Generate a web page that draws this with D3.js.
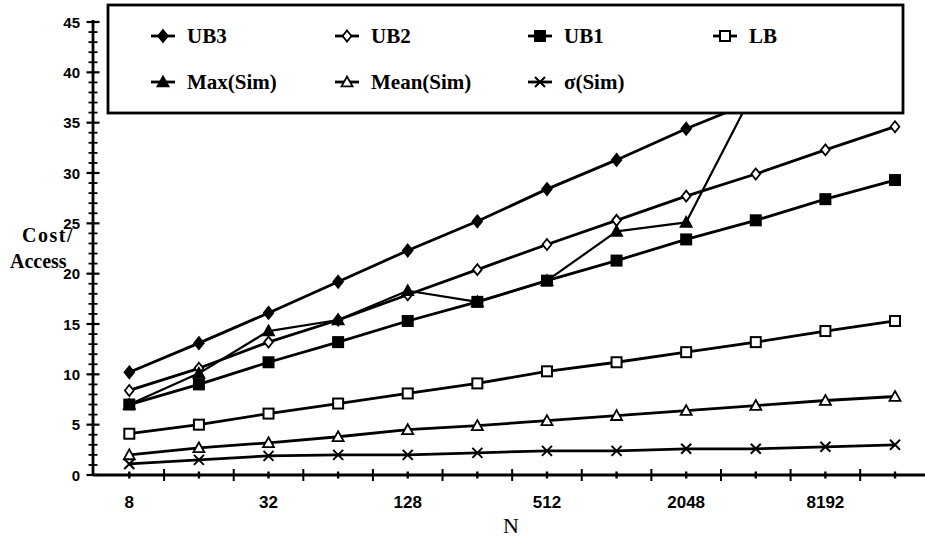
<!DOCTYPE html>
<html>
<head>
<meta charset="utf-8">
<script src="https://cdn.jsdelivr.net/npm/d3@7"></script>
<style>
  html, body { margin: 0; padding: 0; background: #fff; }
  svg { display: block; }
</style>
</head>
<body>
<svg id="chart" width="925" height="540"></svg>
<script>
// Table size N (powers of two) and cost per access for each bound / simulation result
const sizes   = [8, 16, 32, 64, 128, 256, 512, 1024, 2048, 4096, 8192, 16384];
const ub3     = [10.2, 13.1, 16.1, 19.2, 22.3, 25.2, 28.4, 31.3, 34.4, 37.2];
const ub2     = [8.4, 10.6, 13.2, 15.4, 17.9, 20.4, 22.9, 25.3, 27.7, 29.9, 32.3, 34.6];
const ub1     = [7.0, 9.0, 11.2, 13.2, 15.3, 17.2, 19.3, 21.3, 23.4, 25.3, 27.4, 29.3];
const lb      = [4.1, 5.0, 6.1, 7.1, 8.1, 9.1, 10.3, 11.2, 12.2, 13.2, 14.3, 15.3];
const maxSim  = [7.0, 10.1, 14.3, 15.4, 18.3, 17.2, 19.3, 24.2, 25.1, 38.5];
const meanSim = [2.0, 2.7, 3.2, 3.8, 4.5, 4.9, 5.4, 5.9, 6.4, 6.9, 7.4, 7.8];
const sdSim   = [1.1, 1.5, 1.9, 2.0, 2.0, 2.2, 2.4, 2.4, 2.6, 2.6, 2.8, 3.0];

const xTickLabels = [8, 32, 128, 512, 2048, 8192];
const yTickLabels = [0, 5, 10, 15, 20, 25, 30, 35, 40, 45];

const series = [
  { name: "UB3",       values: ub3,     symbol: "diamond",  filled: true,  width: 2.8 },
  { name: "UB2",       values: ub2,     symbol: "diamond",  filled: false, width: 2.8 },
  { name: "UB1",       values: ub1,     symbol: "square",   filled: true,  width: 2.8 },
  { name: "LB",        values: lb,      symbol: "square",   filled: false, width: 2.8 },
  { name: "Max(Sim)",  values: maxSim,  symbol: "triangle", filled: true,  width: 2.2 },
  { name: "Mean(Sim)", values: meanSim, symbol: "triangle", filled: false, width: 2.8 },
  { name: "σ(Sim)",    values: sdSim,   symbol: "cross",    filled: false, width: 2.8 }
];

const svg = d3.select("#chart");

const x = d3.scaleLog().base(2).domain([8, 16384]).range([129.3, 895]);
const y = d3.scaleLinear().domain([0, 45]).range([475, 22]);

const axisX0 = 93, axisX1 = 925, axisY = y(0);

// ---- axes ----
const axes = svg.append("g").attr("stroke", "#000").attr("fill", "none");

// y axis: minor tick every unit, longer tick every 5
axes.append("line").attr("x1", axisX0).attr("x2", axisX0)
  .attr("y1", y(45) - 2).attr("y2", axisY).attr("stroke-width", 2.8);
d3.range(0, 46).forEach(v => {
  const major = v % 5 === 0;
  axes.append("line")
    .attr("x1", axisX0 - (major ? 6.5 : 4.5)).attr("x2", axisX0 + (major ? 6.5 : 4.5))
    .attr("y1", y(v)).attr("y2", y(v))
    .attr("stroke-width", major ? 2.2 : 1.8);
});

// x axis: short tick at each doubling, longer tick half-way between
axes.append("line").attr("x1", axisX0).attr("x2", axisX1)
  .attr("y1", axisY).attr("y2", axisY).attr("stroke-width", 2.8);
sizes.forEach(n => {
  axes.append("line").attr("x1", x(n)).attr("x2", x(n))
    .attr("y1", axisY - 3.5).attr("y2", axisY + 3.5).attr("stroke-width", 2.4);
});
sizes.slice(0, -1).forEach(n => {
  const xm = x(n * Math.SQRT2);
  axes.append("line").attr("x1", xm).attr("x2", xm)
    .attr("y1", axisY - 6).attr("y2", axisY + 6).attr("stroke-width", 2);
});

// tick labels
svg.append("g").selectAll("text").data(yTickLabels).join("text")
  .attr("x", 80).attr("y", d => y(d) + 5.5)
  .attr("text-anchor", "end")
  .attr("font-family", "Liberation Sans, Arial, sans-serif")
  .attr("font-weight", "bold").attr("font-size", 15)
  .text(d => d);

svg.append("g").selectAll("text").data(xTickLabels).join("text")
  .attr("x", d => x(d)).attr("y", 508)
  .attr("text-anchor", "middle")
  .attr("font-family", "Liberation Sans, Arial, sans-serif")
  .attr("font-weight", "bold").attr("font-size", 17)
  .text(d => d);

// axis titles
const titleFont = "Liberation Serif, Times New Roman, serif";
svg.append("text").attr("x", 22).attr("y", 242)
  .attr("font-family", titleFont).attr("font-weight", "bold").attr("font-size", 20)
  .attr("letter-spacing", 1.5)
  .text("Cost/");
svg.append("text").attr("x", 10).attr("y", 268)
  .attr("font-family", titleFont).attr("font-weight", "bold").attr("font-size", 20)
  .text("Access");
svg.append("text").attr("x", 511).attr("y", 533).attr("text-anchor", "middle")
  .attr("font-family", titleFont).attr("font-size", 22)
  .text("N");

// ---- markers ----
function drawMarker(g, s, cx, cy) {
  const fill = s.filled ? "#000" : "#fff";
  if (s.symbol === "diamond") {
    const r = s.filled ? 6 : 5.5;
    g.append("path")
      .attr("d", `M${cx},${cy - r}L${cx + r * 0.8},${cy}L${cx},${cy + r}L${cx - r * 0.8},${cy}Z`)
      .attr("fill", fill).attr("stroke", "#000").attr("stroke-width", 1.8);
  } else if (s.symbol === "square") {
    const h = 5;
    g.append("rect").attr("x", cx - h).attr("y", cy - h)
      .attr("width", 2 * h).attr("height", 2 * h)
      .attr("fill", fill).attr("stroke", "#000").attr("stroke-width", 2);
  } else if (s.symbol === "triangle") {
    const r = 5.5;
    g.append("path")
      .attr("d", `M${cx},${cy - r}L${cx + r},${cy + r * 0.8}L${cx - r},${cy + r * 0.8}Z`)
      .attr("fill", fill).attr("stroke", "#000").attr("stroke-width", 1.8);
  } else {
    const r = 5;
    g.append("path")
      .attr("d", `M${cx - r},${cy - r}L${cx + r},${cy + r}M${cx - r},${cy + r}L${cx + r},${cy - r}`)
      .attr("stroke", "#000").attr("stroke-width", 2);
  }
}

// ---- data lines ----
const line = d3.line().x(d => x(d[0])).y(d => y(d[1]));
const plot = svg.append("g");
series.forEach(s => {
  const pts = s.values.map((v, i) => [sizes[i], v]);
  plot.append("path").datum(pts).attr("d", line)
    .attr("fill", "none").attr("stroke", "#000")
    .attr("stroke-width", s.width).attr("stroke-linejoin", "round");
});
series.forEach(s => {
  const g = plot.append("g");
  s.values.forEach((v, i) => drawMarker(g, s, x(sizes[i]), y(v)));
});

// ---- legend box (opaque, sits over the upper plot area) ----
const legend = svg.append("g");
legend.append("rect").attr("x", 108).attr("y", 5).attr("width", 795).attr("height", 108)
  .attr("fill", "#fff").attr("stroke", "#000").attr("stroke-width", 2.8);

const legendPos = [
  [163, 36], [347, 36], [540, 36], [725, 36],
  [163, 82], [347, 82], [540, 82]
];
series.forEach((s, i) => {
  const [lx, ly] = legendPos[i];
  legend.append("line").attr("x1", lx - 12).attr("x2", lx + 12)
    .attr("y1", ly).attr("y2", ly).attr("stroke", "#000").attr("stroke-width", 2.8);
  drawMarker(legend, s, lx, ly);
  legend.append("text").attr("x", lx + 24).attr("y", ly + 7)
    .attr("font-family", titleFont).attr("font-weight", "bold").attr("font-size", 21)
    .text(s.name);
});
</script>
</body>
</html>
